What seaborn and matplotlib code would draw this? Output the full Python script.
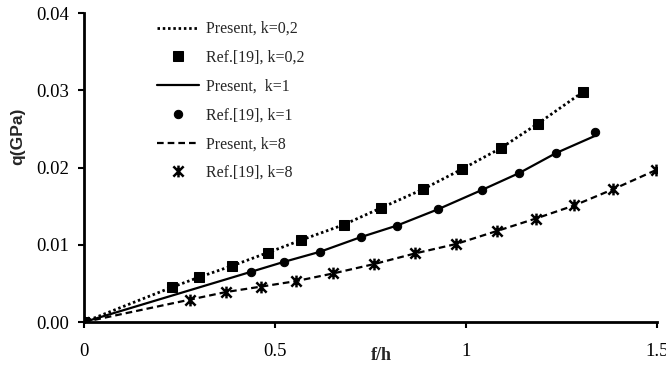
import numpy as np
import matplotlib
matplotlib.use("Agg")
import matplotlib.pyplot as plt
from matplotlib.path import Path
import seaborn as sns

# Ref.[19] points (f/h, q in GPa)
ref_x_k02 = [0, 0.23, 0.301, 0.389, 0.482, 0.568, 0.68, 0.779, 0.888, 0.990, 1.091, 1.189, 1.307]
ref_q_k02 = [0, 0.0045, 0.0058, 0.0073, 0.0090, 0.0106, 0.0126, 0.0148, 0.0172, 0.0198, 0.0225, 0.0257, 0.0298]
ref_x_k1 = [0, 0.437, 0.524, 0.618, 0.725, 0.820, 0.927, 1.042, 1.140, 1.237, 1.338]
ref_q_k1 = [0, 0.0065, 0.0078, 0.0091, 0.0110, 0.0125, 0.0146, 0.0171, 0.0193, 0.0219, 0.0246]
ref_x_k8 = [0, 0.277, 0.373, 0.465, 0.555, 0.653, 0.759, 0.868, 0.974, 1.082, 1.183, 1.284, 1.386, 1.499]
ref_q_k8 = [0, 0.0029, 0.0039, 0.0046, 0.0053, 0.0063, 0.0075, 0.0089, 0.0101, 0.0118, 0.0134, 0.0151, 0.0172, 0.0197]

# Present curves (they run through the reference points)
pres_x_k02, pres_q_k02 = ref_x_k02, ref_q_k02
pres_x_k1 = [0, 0.437, 0.524, 0.618, 0.725, 0.820, 0.927, 1.042, 1.140, 1.237, 1.338, 1.345]
pres_q_k1 = [0, 0.0065, 0.0078, 0.0091, 0.0110, 0.0125, 0.0146, 0.0171, 0.0193, 0.0219, 0.0241, 0.0243]
pres_x_k8, pres_q_k8 = ref_x_k8, ref_q_k8

x_ticks = [0, 0.5, 1, 1.5]
x_ticklabels = ["0", "0.5", "1", "1.5"]
y_ticks = [0.0, 0.01, 0.02, 0.03, 0.04]
y_ticklabels = ["0.00", "0.01", "0.02", "0.03", "0.04"]

sns.set_style("ticks")
plt.rcParams['font.family'] = ['Liberation Serif', 'DejaVu Serif']

# Excel-style star marker: X with a vertical bar
star = Path([(-1, -1), (1, 1), (-1, 1), (1, -1), (0, -1.15), (0, 1.15)],
            [Path.MOVETO, Path.LINETO] * 3)

fig = plt.figure(figsize=(6.66, 3.66), dpi=100)
ax = fig.add_axes([0.126, 0.12, 0.86, 0.844])

sns.lineplot(x=pres_x_k02, y=pres_q_k02, ax=ax, color="black", lw=2.0,
             linestyle=(0, (0.9, 1.0)), sort=False,
             estimator=None, label="Present, k=0,2")
sns.lineplot(x=ref_x_k02, y=ref_q_k02, ax=ax, color="black", linestyle="none",
             marker="s", markersize=6.5, markeredgecolor="black", sort=False,
             estimator=None, label="Ref.[19], k=0,2")
sns.lineplot(x=pres_x_k1, y=pres_q_k1, ax=ax, color="black", lw=1.6,
             linestyle="-", sort=False, estimator=None, label="Present,  k=1")
sns.lineplot(x=ref_x_k1, y=ref_q_k1, ax=ax, color="black", linestyle="none",
             marker="o", markersize=6, markeredgecolor="black", sort=False,
             estimator=None, label="Ref.[19], k=1")
sns.lineplot(x=pres_x_k8, y=pres_q_k8, ax=ax, color="black", lw=1.6,
             linestyle=(0, (3, 1.8)), sort=False, estimator=None,
             label="Present, k=8")
sns.lineplot(x=ref_x_k8, y=ref_q_k8, ax=ax, color="black", linestyle="none",
             marker=star, markersize=8.5, markeredgewidth=1.8,
             markeredgecolor="black", markerfacecolor="none", sort=False,
             estimator=None, label="Ref.[19], k=8")

ax.set_xlim(0, 1.5)
ax.set_ylim(0, 0.04)
ax.set_xticks(x_ticks)
ax.set_xticklabels(x_ticklabels)
ax.set_yticks(y_ticks)
ax.set_yticklabels(y_ticklabels)
ax.tick_params(axis="both", direction="out", length=4, width=1.5,
               labelsize=13.5, color="black", labelcolor="black")
ax.tick_params(axis="x", pad=11)
ax.tick_params(axis="y", pad=7)
for side in ["top", "right"]:
    ax.spines[side].set_visible(False)
for side in ["left", "bottom"]:
    ax.spines[side].set_linewidth(2)
    ax.spines[side].set_color("black")

ax.set_xlabel("f/h", fontsize=13, fontweight="bold")
ax.xaxis.set_label_coords(0.52, -0.08)
ax.set_ylabel("q(GPa)", fontsize=12.5, fontweight="bold",
              family=["Liberation Sans", "DejaVu Sans"])
ax.yaxis.set_label_coords(-0.103, 0.6)

leg = ax.legend(loc="upper left", bbox_to_anchor=(0.117, 0.995), frameon=False,
                fontsize=11.5, handlelength=2.6, handletextpad=0.45,
                labelspacing=0.8, borderaxespad=0)

fig.savefig("out.png", dpi=100)
